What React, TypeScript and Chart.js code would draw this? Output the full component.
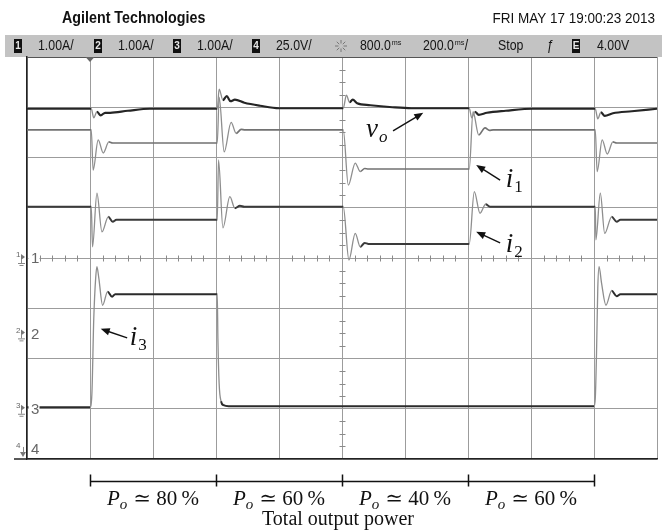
import React, { useEffect, useRef } from 'react';
import { Chart, registerables } from 'chart.js';
Chart.register(...registerables);

type P = [number, number];

// time in divisions (200 ms/div), amplitude in divisions (8 div tall, 0 = centre)
const vo: P[] = [
  [0, 2.97], [1.02, 2.97], [1.06, 2.79], [1.11, 2.91], [1.17, 2.84], [1.24, 2.89], [1.32, 2.89], [1.6, 2.93], [1.95, 2.97], [3.02, 2.97],
  [3.05, 3.36], [3.11, 3.14], [3.17, 3.22], [3.23, 3.12], [3.3, 3.15], [3.45, 3.09], [3.7, 3.03], [4.0, 2.98], [5.02, 2.98],
  [5.07, 3.24], [5.12, 3.10], [5.17, 3.15], [5.24, 3.08], [5.45, 3.04], [5.8, 3.0], [6.1, 2.98], [7.02, 2.98],
  [7.06, 2.79], [7.11, 2.91], [7.17, 2.85], [7.3, 2.89], [7.6, 2.93], [8.03, 2.97], [9.02, 2.97],
  [9.06, 2.77], [9.11, 2.90], [9.17, 2.83], [9.3, 2.88], [9.6, 2.92], [10, 2.97],
];
const i1: P[] = [
  [0, 2.55], [1.02, 2.55], [1.05, 1.75], [1.13, 2.35], [1.21, 2.09], [1.30, 2.31], [1.36, 2.29], [3.02, 2.29],
  [3.05, 3.20], [3.13, 2.11], [3.24, 2.70], [3.32, 2.48], [3.40, 2.56], [3.46, 2.55], [5.02, 2.55],
  [5.10, 1.45], [5.21, 1.89], [5.29, 1.72], [5.36, 1.78], [5.42, 1.77], [7.02, 1.77],
  [7.08, 2.91], [7.17, 2.45], [7.27, 2.59], [7.34, 2.54], [7.40, 2.55], [9.02, 2.55],
  [9.05, 1.72], [9.13, 2.35], [9.21, 2.07], [9.30, 2.31], [9.36, 2.29], [10, 2.29],
];
const i2: P[] = [
  [0, 1.02], [1.02, 1.02], [1.04, 0.22], [1.11, 1.29], [1.19, 0.52], [1.29, 0.82], [1.36, 0.72], [1.42, 0.76], [3.02, 0.76],
  [3.04, 1.95], [3.11, 0.60], [3.22, 1.22], [3.30, 0.99], [3.38, 1.04], [3.45, 1.02], [5.02, 1.02],
  [5.11, -0.04], [5.21, 0.49], [5.29, 0.22], [5.36, 0.30], [5.42, 0.28], [7.02, 0.28],
  [7.10, 1.32], [7.19, 0.89], [7.28, 1.07], [7.35, 1.02], [9.02, 1.02],
  [9.03, 0.36], [9.10, 1.29], [9.17, 0.49], [9.28, 0.82], [9.36, 0.72], [9.42, 0.76], [10, 0.76],
];
const i3: P[] = [
  [0, -2.97], [1.0, -2.97], [1.03, -2.7], [1.06, -1.2], [1.09, -0.4], [1.11, -0.17], [1.14, -0.4], [1.20, -0.94], [1.28, -0.67], [1.35, -0.77], [1.40, -0.72], [3.02, -0.72],
  [3.03, -1.6], [3.05, -2.5], [3.08, -2.85], [3.12, -2.93], [3.2, -2.95], [9.0, -2.95],
  [9.02, -2.8], [9.04, -1.9], [9.06, -0.6], [9.08, -0.17], [9.12, -0.5], [9.19, -0.94], [9.28, -0.65], [9.36, -0.76], [9.42, -0.72], [10, -0.72],
];

const titleText = 'Agilent Technologies';
const dateText = 'FRI MAY 17 19:00:23 2013';
const channelNames = ['1', '2', '3', '4'];
const channelScales = ['1.00A/', '1.00A/', '1.00A/', '25.0V/'];
const delayText = '800.0';
const timebaseText = '200.0';
const runState = 'Stop';
const triggerLevel = '4.00V';
const groundLevels = [0, -1.5, -3, -3.8];
const stepTimes = [1, 3, 5, 7, 9];
const powerLevels = ['80', '60', '40', '60'];
const axisTitle = 'Total output power';

const SANS = '"Liberation Sans", Arial, sans-serif';
const SERIF = '"Liberation Serif", "DejaVu Serif", serif';

function condensed(ctx: CanvasRenderingContext2D, text: string, x: number, y: number, font: string, sx: number, align: 'left' | 'right') {
  ctx.save();
  ctx.font = font;
  const w = ctx.measureText(text).width * sx;
  const left = align === 'left' ? x : x - w;
  ctx.translate(left, y);
  ctx.scale(sx, 1);
  ctx.textAlign = 'left';
  ctx.fillText(text, 0, 0);
  ctx.restore();
}

function chip(ctx: CanvasRenderingContext2D, x: number, yMid: number, label: string) {
  ctx.fillStyle = '#111';
  ctx.fillRect(x, yMid - 7, 8, 14);
  ctx.fillStyle = '#e8e8e8';
  ctx.font = `bold 10px ${SANS}`;
  ctx.textAlign = 'center';
  ctx.textBaseline = 'middle';
  ctx.fillText(label, x + 4, yMid + 0.5);
}

function arrow(ctx: CanvasRenderingContext2D, x0: number, y0: number, x1: number, y1: number) {
  const a = Math.atan2(y1 - y0, x1 - x0);
  const L = 9, W = 3.6;
  ctx.beginPath();
  ctx.moveTo(x0, y0);
  ctx.lineTo(x1 - 5 * Math.cos(a), y1 - 5 * Math.sin(a));
  ctx.stroke();
  ctx.beginPath();
  ctx.moveTo(x1, y1);
  ctx.lineTo(x1 - L * Math.cos(a) + W * Math.sin(a), y1 - L * Math.sin(a) - W * Math.cos(a));
  ctx.lineTo(x1 - L * Math.cos(a) - W * Math.sin(a), y1 - L * Math.sin(a) + W * Math.cos(a));
  ctx.closePath();
  ctx.fill();
}

function subText(ctx: CanvasRenderingContext2D, base: string, sub: string, x: number, y: number, size: number, subSize: number, subItalic: boolean) {
  ctx.textAlign = 'left';
  ctx.textBaseline = 'alphabetic';
  ctx.font = `italic ${size}px ${SERIF}`;
  ctx.fillText(base, x, y);
  const w = ctx.measureText(base).width;
  ctx.font = `${subItalic ? 'italic ' : ''}${subSize}px ${SERIF}`;
  ctx.fillText(sub, x + w + 1, y + 5);
}

const annotations = [
  { base: 'v', sub: 'o', subItalic: true, tx: 5.38, ty: 2.41, ax0: 5.81, ay0: 2.53, ax1: 6.29, ay1: 2.89 },
  { base: 'i', sub: '1', subItalic: false, tx: 7.6, ty: 1.41, ax0: 7.51, ay0: 1.55, ax1: 7.13, ay1: 1.85 },
  { base: 'i', sub: '2', subItalic: false, tx: 7.6, ty: 0.12, ax0: 7.51, ay0: 0.30, ax1: 7.13, ay1: 0.52 },
  { base: 'i', sub: '3', subItalic: false, tx: 1.63, ty: -1.73, ax0: 1.59, ay0: -1.59, ax1: 1.17, ay1: -1.41 },
];

const scopePlugin = {
  id: 'scope',
  beforeDraw(chart: any) {
    const { ctx, chartArea: a } = chart;
    ctx.save();
    ctx.fillStyle = '#fff';
    ctx.fillRect(0, 0, chart.width, chart.height);
    ctx.fillStyle = '#111';
    ctx.textBaseline = 'alphabetic';
    condensed(ctx, titleText, 62, 23, `bold 17px ${SANS}`, 0.84, 'left');
    condensed(ctx, dateText, 655, 23, `15px ${SANS}`, 0.9, 'right');

    const barTop = a.top - 22;
    const mid = a.top - 11;
    ctx.fillStyle = '#c3c3c3';
    ctx.fillRect(5, barTop, 657, 22);

    const chipX = [14, 94, 173, 252];
    channelNames.forEach((n, k) => {
      chip(ctx, chipX[k], mid, n);
      ctx.fillStyle = '#151515';
      ctx.textBaseline = 'middle';
      condensed(ctx, channelScales[k], chipX[k] + 24, mid, `14px ${SANS}`, 0.88, 'left');
    });
    ctx.strokeStyle = '#777';
    ctx.lineWidth = 1;
    const sx = 341, sy = mid;
    for (let k = 0; k < 8; k++) {
      const t = (k * Math.PI) / 4;
      ctx.beginPath();
      ctx.moveTo(sx + 2.5 * Math.cos(t), sy + 2.5 * Math.sin(t));
      ctx.lineTo(sx + 6 * Math.cos(t), sy + 6 * Math.sin(t));
      ctx.stroke();
    }
    ctx.fillStyle = '#151515';
    ctx.textBaseline = 'middle';
    ctx.font = `14px ${SANS}`;
    const wd = ctx.measureText(delayText).width * 0.88;
    condensed(ctx, delayText, 360, mid, `14px ${SANS}`, 0.88, 'left');
    condensed(ctx, 'ms', 361 + wd, mid - 3, `8px ${SANS}`, 0.9, 'left');
    condensed(ctx, timebaseText, 423, mid, `14px ${SANS}`, 0.88, 'left');
    condensed(ctx, 'ms', 424 + wd, mid - 3, `8px ${SANS}`, 0.9, 'left');
    condensed(ctx, '/', 434 + wd, mid, `14px ${SANS}`, 0.88, 'left');
    condensed(ctx, runState, 498, mid, `14px ${SANS}`, 0.88, 'left');
    condensed(ctx, 'ƒ', 547, mid, `14px ${SANS}`, 0.88, 'left');
    chip(ctx, 572, mid, 'E');
    ctx.fillStyle = '#151515';
    ctx.textBaseline = 'middle';
    condensed(ctx, triggerLevel, 597, mid, `14px ${SANS}`, 0.88, 'left');
    ctx.restore();
  },
  beforeDatasetsDraw(chart: any) {
    const { ctx, chartArea: a, scales } = chart;
    const xs = scales.x, ys = scales.y;
    ctx.save();
    ctx.strokeStyle = '#8a8a8a';
    ctx.lineWidth = 1;
    const y0 = Math.round(ys.getPixelForValue(0)) + 0.5;
    for (let k = 1; k < 50; k++) {
      if (k % 5 === 0) continue;
      const px = Math.round(xs.getPixelForValue(k / 5)) + 0.5;
      ctx.beginPath(); ctx.moveTo(px, y0 - 3); ctx.lineTo(px, y0 + 3); ctx.stroke();
    }
    const x5 = Math.round(xs.getPixelForValue(5)) + 0.5;
    for (let k = -15; k < 16; k++) {
      if (k % 4 === 0) continue;
      const py = Math.round(ys.getPixelForValue(k / 4)) + 0.5;
      ctx.beginPath(); ctx.moveTo(x5 - 3, py); ctx.lineTo(x5 + 3, py); ctx.stroke();
    }
    ctx.strokeStyle = '#555';
    ctx.beginPath(); ctx.moveTo(a.left, a.top + 0.5); ctx.lineTo(a.right, a.top + 0.5); ctx.stroke();
    ctx.restore();
  },
  afterDatasetsDraw(chart: any) {
    const { ctx, chartArea: a, scales } = chart;
    const xs = scales.x, ys = scales.y;
    ctx.save();
    ctx.strokeStyle = '#222';
    ctx.lineWidth = 1.5;
    ctx.beginPath(); ctx.moveTo(14, a.bottom); ctx.lineTo(a.left, a.bottom); ctx.stroke();
    groundLevels.forEach((g, k) => {
      const y = ys.getPixelForValue(g);
      ctx.fillStyle = '#fff';
      ctx.fillRect(a.left + 1.5, y - 7, 11, 14);
      ctx.fillStyle = '#666';
      ctx.font = `15px ${SANS}`;
      ctx.textAlign = 'left';
      ctx.textBaseline = 'middle';
      ctx.fillText(channelNames[k], 31, y + 1);
      ctx.font = `8px ${SANS}`;
      ctx.fillText(channelNames[k], 16, y - 3);
      ctx.fillStyle = '#777';
      ctx.strokeStyle = '#888';
      ctx.lineWidth = 1;
      if (k < 3) {
        ctx.beginPath(); ctx.moveTo(21, y - 4); ctx.lineTo(25, y - 1); ctx.lineTo(21, y + 2); ctx.closePath(); ctx.fill();
        ctx.beginPath();
        ctx.moveTo(21.5, y + 1); ctx.lineTo(21.5, y + 5);
        ctx.moveTo(18, y + 5.5); ctx.lineTo(25, y + 5.5);
        ctx.moveTo(19.5, y + 7.5); ctx.lineTo(23.5, y + 7.5);
        ctx.stroke();
      } else {
        ctx.beginPath(); ctx.moveTo(20, y + 3); ctx.lineTo(26, y + 3); ctx.lineTo(23, y + 8); ctx.closePath(); ctx.fill();
        ctx.beginPath(); ctx.moveTo(23.5, y - 2); ctx.lineTo(23.5, y + 4); ctx.stroke();
      }
    });
    const tx = xs.getPixelForValue(stepTimes[0]);
    ctx.fillStyle = '#666';
    ctx.beginPath(); ctx.moveTo(tx - 4.5, a.top); ctx.lineTo(tx + 4.5, a.top); ctx.lineTo(tx, a.top + 5); ctx.closePath(); ctx.fill();

    ctx.fillStyle = '#111';
    ctx.strokeStyle = '#111';
    ctx.lineWidth = 1.4;
    annotations.forEach((an) => {
      arrow(ctx, xs.getPixelForValue(an.ax0), ys.getPixelForValue(an.ay0), xs.getPixelForValue(an.ax1), ys.getPixelForValue(an.ay1));
      subText(ctx, an.base, an.sub, xs.getPixelForValue(an.tx), ys.getPixelForValue(an.ty), 27, 17, an.subItalic);
    });

    const by = a.bottom + 22.5;
    ctx.strokeStyle = '#111';
    ctx.lineWidth = 1.5;
    ctx.beginPath();
    ctx.moveTo(xs.getPixelForValue(stepTimes[0]), by);
    ctx.lineTo(xs.getPixelForValue(stepTimes[stepTimes.length - 1]), by);
    stepTimes.forEach((s) => {
      const px = Math.round(xs.getPixelForValue(s)) + 0.5;
      ctx.moveTo(px, by - 7); ctx.lineTo(px, by + 5);
    });
    ctx.stroke();

    const lb = a.bottom + 46;
    powerLevels.forEach((lvl, k) => {
      const cx = (xs.getPixelForValue(stepTimes[k]) + xs.getPixelForValue(stepTimes[k + 1])) / 2;
      const rest = ` \u2243 ${lvl}\u2009%`;
      ctx.font = `italic 21px ${SERIF}`;
      const wP = ctx.measureText('P').width;
      ctx.font = `italic 15px ${SERIF}`;
      const wo = ctx.measureText('o').width;
      ctx.font = `21px ${SERIF}`;
      const wr = ctx.measureText(rest).width;
      const total = wP + wo + 1 + wr;
      let x = cx - total / 2;
      ctx.fillStyle = '#111';
      ctx.textAlign = 'left';
      ctx.textBaseline = 'alphabetic';
      ctx.font = `italic 21px ${SERIF}`;
      ctx.fillText('P', x, lb);
      x += wP;
      ctx.font = `italic 15px ${SERIF}`;
      ctx.fillText('o', x, lb + 4);
      x += wo + 1;
      ctx.font = `21px ${SERIF}`;
      ctx.fillText(rest, x, lb);
    });
    ctx.font = `20px ${SERIF}`;
    ctx.textAlign = 'center';
    ctx.fillText(axisTitle, xs.getPixelForValue(5) - 4, a.bottom + 66);
    ctx.restore();
  },
};

const traceDefs = [
  { name: 'i3', data: i3, color: '#2b2b2b', width: 2 },
  { name: 'i2', data: i2, color: '#3a3a3a', width: 2 },
  { name: 'i1', data: i1, color: '#727272', width: 1.6 },
  { name: 'vo', data: vo, color: '#252525', width: 2.2 },
];

function steep(c: any) {
  const dx = Math.abs(c.p1.x - c.p0.x);
  const dy = Math.abs(c.p1.y - c.p0.y);
  return dy > 5 && dy / Math.max(dx, 0.5) > 1.5;
}

export default function App() {
  const ref = useRef<HTMLCanvasElement | null>(null);
  useEffect(() => {
    if (!ref.current) return;
    const chart = new Chart(ref.current, {
      type: 'scatter',
      data: {
        datasets: traceDefs.map((d) => ({
          label: d.name,
          data: d.data.map(([x, y]) => ({ x, y })),
          showLine: true,
          borderColor: d.color,
          borderWidth: d.width,
          pointRadius: 0,
          cubicInterpolationMode: 'monotone',
          fill: false,
          segment: {
            borderColor: (c: any) => (steep(c) ? '#8e8e8e' : undefined),
            borderWidth: (c: any) => (steep(c) ? 1.3 : undefined),
          },
        })),
      } as any,
      options: {
        responsive: false,
        animation: false,
        devicePixelRatio: 1,
        layout: { padding: { left: 27, right: 6, top: 57, bottom: 72 } },
        plugins: { legend: { display: false }, tooltip: { enabled: false } },
        scales: {
          x: {
            type: 'linear', min: 0, max: 10,
            ticks: { display: false, stepSize: 1 },
            grid: { color: '#9c9c9c', lineWidth: 1, drawTicks: false },
            border: { display: true, color: '#222', width: 1.5 },
            afterFit: (s: any) => { s.height = 0; },
          },
          y: {
            type: 'linear', min: -4, max: 4,
            ticks: { display: false, stepSize: 1 },
            grid: { color: '#9c9c9c', lineWidth: 1, drawTicks: false },
            border: { display: true, color: '#222', width: 1.5 },
            afterFit: (s: any) => { s.width = 0; },
          },
        },
      } as any,
      plugins: [scopePlugin],
    });
    return () => chart.destroy();
  }, []);
  return (
    <div style={{ position: 'fixed', left: 0, top: 0, width: 663, height: 531, background: '#fff' }}>
      <canvas ref={ref} width={663} height={531} style={{ display: 'block' }} />
    </div>
  );
}
